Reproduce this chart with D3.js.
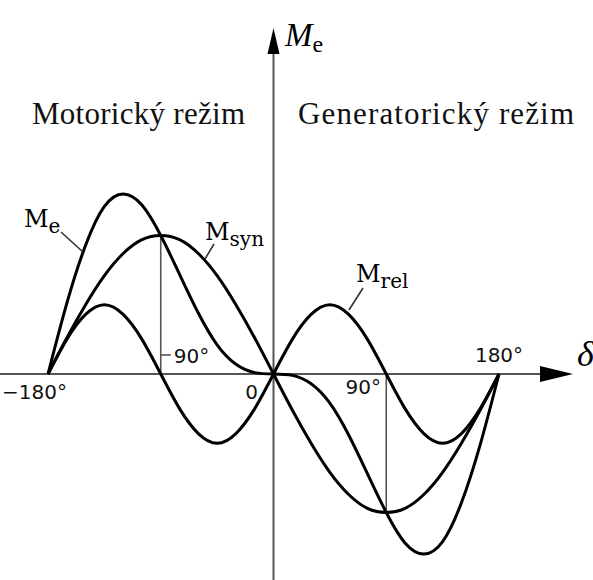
<!DOCTYPE html>
<html>
<head>
<meta charset="utf-8">
<script src="https://cdn.jsdelivr.net/npm/d3@7"></script>
<style>
  html, body { margin: 0; padding: 0; background: #fff; }
  svg { display: block; }
</style>
</head>
<body>
<svg id="chart" width="593" height="580"></svg>
<script>
// Load angle δ in degrees
const delta = [-180, -165, -150, -135, -120, -105, -90, -75, -60, -45, -30, -15, 0,
               15, 30, 45, 60, 75, 90, 105, 120, 135, 150, 165, 180];

// Synchronous (excitation) torque component, relative units
const mSyn = [0, 0.26, 0.50, 0.71, 0.87, 0.97, 1.00, 0.97, 0.87, 0.71, 0.50, 0.26, 0,
              -0.26, -0.50, -0.71, -0.87, -0.97, -1.00, -0.97, -0.87, -0.71, -0.50, -0.26, 0];

// Reluctance torque component, relative units
const mRel = [0, 0.25, 0.43, 0.50, 0.43, 0.25, 0, -0.25, -0.43, -0.50, -0.43, -0.25, 0,
              0.25, 0.43, 0.50, 0.43, 0.25, 0, -0.25, -0.43, -0.50, -0.43, -0.25, 0];

// Resulting electromagnetic torque
const mE = [0, 0.51, 0.93, 1.21, 1.30, 1.22, 1.00, 0.72, 0.44, 0.21, 0.07, 0.01, 0,
            -0.01, -0.07, -0.21, -0.44, -0.72, -1.00, -1.22, -1.30, -1.21, -0.93, -0.51, 0];

const tickLabels = [
  { v: -180, text: "\u2212180°" },
  { v: 0, text: "0" },
  { v: 90, text: "90°" },
  { v: 180, text: "180°" }
];

const svg = d3.select("#chart");
const x = d3.scaleLinear().domain([-180, 180]).range([48, 499]);
const y = d3.scaleLinear().domain([-1, 1]).range([374 + 138.5, 374 - 138.5]);

const axisColor = "#555";
const x0 = x(0), y0 = y(0);

// Mode captions
svg.append("text").attr("x", 32).attr("y", 124)
  .attr("font-family", "Liberation Serif").attr("font-size", 31).attr("fill", "#111")
  .attr("textLength", 213).attr("lengthAdjust", "spacing")
  .text("Motorický režim");
svg.append("text").attr("x", 298).attr("y", 124)
  .attr("font-family", "Liberation Serif").attr("font-size", 31).attr("fill", "#111")
  .attr("textLength", 276).attr("lengthAdjust", "spacing")
  .text("Generatorický režim");

// Axes
svg.append("line").attr("x1", 0).attr("x2", 548).attr("y1", y0).attr("y2", y0)
  .attr("stroke", axisColor).attr("stroke-width", 2);
svg.append("path")
  .attr("d", `M573,${y0} L540,${y0 - 8} L540,${y0 + 8} Z`).attr("fill", "#000");
svg.append("line").attr("x1", x0).attr("x2", x0).attr("y1", 580).attr("y2", 52)
  .attr("stroke", axisColor).attr("stroke-width", 2);
svg.append("path")
  .attr("d", `M${x0},28 L${x0 - 6},54 L${x0 + 6},54 Z`).attr("fill", "#000");

// Axis titles
const me = svg.append("text").attr("x", 285).attr("y", 46)
  .attr("font-family", "Liberation Serif").attr("font-style", "italic")
  .attr("font-size", 33).attr("fill", "#000");
me.append("tspan").text("M");
me.append("tspan").attr("font-style", "normal").attr("font-size", 24).attr("dy", 6).text("e");

svg.append("text").attr("x", 577).attr("y", 366)
  .attr("font-family", "Liberation Serif").attr("font-style", "italic")
  .attr("font-size", 36).attr("fill", "#000").text("δ");

// Reference lines at ±90°
svg.append("line").attr("x1", x(-90)).attr("x2", x(-90))
  .attr("y1", y0).attr("y2", y(mSyn[delta.indexOf(-90)]))
  .attr("stroke", axisColor).attr("stroke-width", 1.6);
svg.append("line").attr("x1", x(90)).attr("x2", x(90))
  .attr("y1", y0).attr("y2", y(mSyn[delta.indexOf(90)]))
  .attr("stroke", axisColor).attr("stroke-width", 1.6);
svg.append("line").attr("x1", x(-90)).attr("x2", x(-90) + 10)
  .attr("y1", 355).attr("y2", 355).attr("stroke", axisColor).attr("stroke-width", 1.6);

// Tick labels
const tickFont = "DejaVu Sans";
const tickPos = {
  "-180": { dx: -46, dy: 25, anchor: "start" },
  "0": { dx: -22, dy: 25, anchor: "middle" },
  "90": { dx: -23, dy: 20, anchor: "middle" },
  "180": { dx: 0, dy: -12, anchor: "middle" }
};
tickLabels.forEach(t => {
  const p = tickPos[String(t.v)];
  svg.append("text").attr("x", x(t.v) + p.dx).attr("y", y0 + p.dy)
    .attr("text-anchor", p.anchor).attr("font-family", tickFont)
    .attr("font-size", 20).attr("fill", "#111").text(t.text);
});
svg.append("text").attr("x", x(-90) + 13).attr("y", 363)
  .attr("font-family", tickFont).attr("font-size", 20).attr("fill", "#111").text("90°");

// Curves
const rows = delta.map((d, i) => ({ d, syn: mSyn[i], rel: mRel[i], e: mE[i] }));
const line = key => d3.line().x(r => x(r.d)).y(r => y(r[key])).curve(d3.curveNatural);
["syn", "rel", "e"].forEach(k => {
  svg.append("path").datum(rows).attr("d", line(k))
    .attr("fill", "none").attr("stroke", "#000").attr("stroke-width", 3)
    .attr("stroke-linejoin", "round");
});

// Curve labels with leader lines
function curveLabel(xp, yp, main, sub, lx1, ly1, lx2, ly2) {
  const t = svg.append("text").attr("x", xp).attr("y", yp)
    .attr("font-family", "DejaVu Serif").attr("font-size", 24).attr("fill", "#000");
  t.append("tspan").text(main);
  t.append("tspan").attr("font-size", 20).attr("dy", 6).text(sub);
  svg.append("line").attr("x1", lx1).attr("y1", ly1).attr("x2", lx2).attr("y2", ly2)
    .attr("stroke", "#333").attr("stroke-width", 1.6);
}
curveLabel(24, 227, "M", "e", 61, 232, 83, 252);
curveLabel(205, 240, "M", "syn", 214, 244, 205, 259);
curveLabel(356, 282, "M", "rel", 363, 288, 349, 310);
</script>
</body>
</html>
